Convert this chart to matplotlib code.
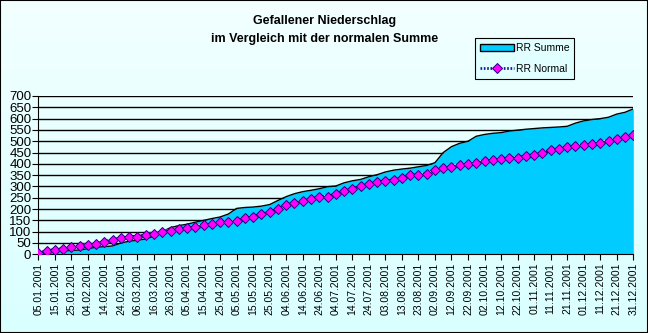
import matplotlib.pyplot as plt
import numpy as np
from matplotlib.patches import Rectangle
from matplotlib.lines import Line2D

plt.rcParams['font.family'] = ['Liberation Sans', 'DejaVu Sans']

# Pentad sums (every 5 days, 05.01. - 31.12.2001)
rr_summe = [0, 5, 10, 15, 17, 19, 25, 31, 34, 37, 50, 58, 62, 68, 80, 100, 118, 127, 133, 142,
            150, 158, 165, 178, 203, 207, 209, 213, 220, 238, 255, 268, 277, 283, 290, 299, 302, 316, 325, 331,
            343, 352, 364, 372, 377, 381, 387, 393, 405, 450, 476, 491, 500, 522, 530, 535, 538, 545, 549, 553,
            556, 559, 561, 563, 566, 580, 590, 596, 600, 606, 620, 628, 643]
rr_normal = [4, 14, 19, 24, 31, 36, 41, 45, 54, 64, 70, 77, 78, 84, 90, 97, 104, 110, 116, 122,
             129, 133, 141, 141, 147, 160, 165, 177, 186, 200, 218, 225, 236, 243, 253, 255, 265, 278, 289, 300,
             309, 318, 324, 328, 337, 349, 352, 355, 371, 381, 386, 395, 399, 405, 412, 417, 421, 424, 426, 435,
             439, 449, 460, 465, 473, 479, 483, 488, 492, 502, 508, 517, 527]
tick_labels = ['05.01.2001', '15.01.2001', '25.01.2001', '04.02.2001', '14.02.2001', '24.02.2001',
               '06.03.2001', '16.03.2001', '26.03.2001', '05.04.2001', '15.04.2001', '25.04.2001',
               '05.05.2001', '15.05.2001', '25.05.2001', '04.06.2001', '14.06.2001', '24.06.2001',
               '04.07.2001', '14.07.2001', '24.07.2001', '03.08.2001', '13.08.2001', '23.08.2001',
               '02.09.2001', '12.09.2001', '22.09.2001', '02.10.2001', '12.10.2001', '22.10.2001',
               '01.11.2001', '11.11.2001', '21.11.2001', '01.12.2001', '11.12.2001', '21.12.2001',
               '31.12.2001']

x = np.arange(len(rr_summe))
bg = '#E2FFFF'

fig = plt.figure(figsize=(6.48, 3.33), dpi=100)
fig.patch.set_facecolor(bg)

# leichter Farbverlauf im Hintergrund
bgax = fig.add_axes([0, 0, 1, 1], zorder=-5)
grad = np.linspace(0, 1, 100).reshape(-1, 1)
from matplotlib.colors import LinearSegmentedColormap
cmap = LinearSegmentedColormap.from_list('bg', ['#F2FFFF', '#DAFFFF'])
bgax.imshow(grad, aspect='auto', cmap=cmap, extent=[0, 1, 0, 1])
bgax.axis('off')

ax = fig.add_axes([38.3 / 648, 1 - 254.3 / 333, (633.3 - 38.3) / 648, (254.3 - 96) / 333])
ax.patch.set_alpha(0)

ax.fill_between(x, rr_summe, 0, color='#00CCFF', lw=0, zorder=2)
ax.plot(x, rr_summe, color='black', lw=1, zorder=3)

# Normal: gemusterte Linie mit Rauten
ax.plot(x, rr_normal, color='white', lw=2.6, zorder=4)
ax.plot(x, rr_normal, color='#1A1A99', lw=2.6, ls=(0, (0.6, 0.6)), zorder=5)
ax.plot(x, rr_normal, ls='none', marker='D', ms=5, mfc='#FF00FF', mec='#200080', mew=0.7, zorder=6)

ax.set_xlim(0, len(x) - 1)
ax.set_ylim(0, 700)
ax.set_yticks(range(0, 701, 50))
ax.grid(axis='y', color='black', lw=1)
ax.set_axisbelow(True)
ax.set_xticks(x[::2])
ax.set_xticklabels(tick_labels, rotation=90, fontsize=7.5)
ax.tick_params(axis='y', labelsize=9.5, length=4, pad=1, color='black')
ax.tick_params(axis='x', length=4, pad=2, color='black')
for s in ['top', 'right']:
    ax.spines[s].set_visible(False)
ax.spines['left'].set_color('black')
ax.spines['bottom'].set_color('black')

fig.text(0.5015, 1 - 30 / 333, 'Gefallener Niederschlag\nim Vergleich mit der normalen Summe',
         ha='center', va='center', fontsize=9, fontweight='bold', linespacing=1.6)

handles = [Rectangle((0, 0), 1, 1, facecolor='#00CCFF', edgecolor='black', lw=1),
           Line2D([], [], color='#1A1A99', lw=2, ls=(0, (0.6, 0.6)), marker='D', ms=5,
                  mfc='#FF00FF', mec='#200080', mew=0.7)]
leg = fig.legend(handles, ['RR Summe', 'RR Normal'], loc='upper left',
                 bbox_to_anchor=(475 / 648, 1 - 38 / 333), fontsize=7.5, fancybox=False,
                 edgecolor='black', facecolor=bg, framealpha=1, handlelength=3.2,
                 handletextpad=0.2, borderpad=0.5, labelspacing=1.0, borderaxespad=0)
leg.get_frame().set_linewidth(0.8)

fig.add_artist(Rectangle((0, 0), 1, 1, transform=fig.transFigure, fill=False,
                         edgecolor='black', lw=1.5))

fig.savefig('out.png', dpi=100, facecolor=fig.get_facecolor())
